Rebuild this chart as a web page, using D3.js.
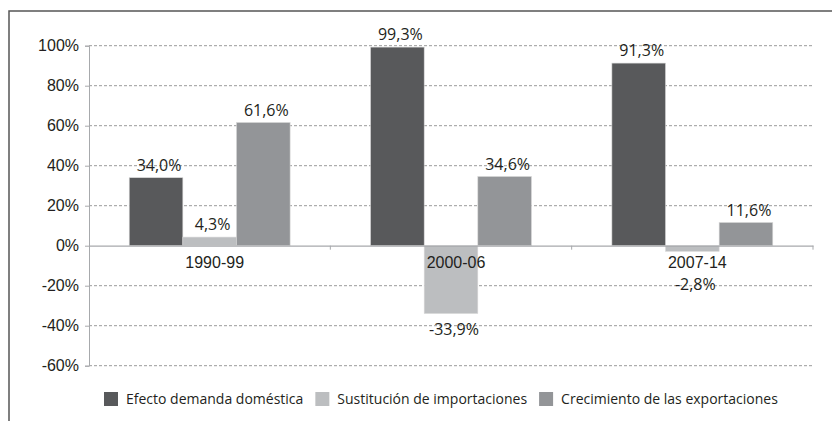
<!DOCTYPE html>
<html>
<head>
<meta charset="utf-8">
<script src="https://cdn.jsdelivr.net/npm/d3@7"></script>
<style>
  body { margin: 0; background: #fff; }
  svg { display: block; font-family: "Open Sans", sans-serif; }
</style>
</head>
<body>
<svg id="chart" width="832" height="421"></svg>
<script>
// data
const periods = ["1990-99", "2000-06", "2007-14"]
const seriesNames = ["Efecto demanda doméstica", "Sustitución de importaciones", "Crecimiento de las exportaciones"]
const demanda = [34.0, 99.3, 91.3]
const sustitucion = [4.3, -33.9, -2.8]
const exportaciones = [61.6, 34.6, 11.6]
const yTicks = [-60, -40, -20, 0, 20, 40, 60, 80, 100]

const colors = ["#58595b", "#bcbec0", "#939598"]
const allSeries = [demanda, sustitucion, exportaciones]

const width = 832, height = 421
const margin = {left: 89, right: 19, top: 45.7, bottom: 55.3}

const svg = d3.select("#chart")
const fmt = v => d3.format(".1f")(v).replace(".", ",").replace("−", "-") + "%"

// frame (cropped box)
svg.append("path")
    .attr("d", `M9,${height} L9,11 L${width},11`)
    .attr("fill", "none")
    .attr("stroke", "#555")
    .attr("stroke-width", 1.5)

const x = d3.scaleBand()
    .domain(periods)
    .range([margin.left, width - margin.right])
    .paddingInner(0)
    .paddingOuter(0)

const x1 = d3.scaleBand()
    .domain(d3.range(3))
    .range([0, x.bandwidth()])
    .paddingOuter(0.75)
    .paddingInner(0)

const y = d3.scaleLinear()
    .domain([-60, 100])
    .range([height - margin.bottom, margin.top])

// gridlines
svg.append("g")
  .selectAll("line")
  .data(yTicks.filter(d => d !== 0))
  .join("line")
    .attr("x1", margin.left)
    .attr("x2", width - margin.right)
    .attr("y1", d => y(d))
    .attr("y2", d => y(d))
    .attr("stroke", "#9a9a9a")
    .attr("stroke-width", 1)
    .attr("stroke-dasharray", "3,2")

// y axis
const yAxis = svg.append("g")
    .attr("transform", `translate(${margin.left},0)`)
    .call(d3.axisLeft(y).tickValues(yTicks).tickFormat(d => d + "%").tickSize(4).tickPadding(6))
yAxis.select(".domain").attr("stroke", "#a7a9ac")
yAxis.selectAll(".tick line").attr("stroke", "#a7a9ac")
yAxis.selectAll("text").attr("font-size", 16).attr("fill", "#231f20")

// bars
const groups = svg.append("g")
  .selectAll("g")
  .data(periods)
  .join("g")
    .attr("transform", d => `translate(${x(d)},0)`)

groups.selectAll("rect")
  .data((p, i) => allSeries.map((s, k) => ({k, v: s[i]})))
  .join("rect")
    .attr("x", d => x1(d.k))
    .attr("width", x1.bandwidth())
    .attr("y", d => y(Math.max(0, d.v)))
    .attr("height", d => Math.abs(y(d.v) - y(0)))
    .attr("fill", d => colors[d.k])
    .attr("stroke", "#d8d8d8")
    .attr("stroke-width", 0.6)

// x axis (zero line)
const xAxis = svg.append("g")
    .attr("transform", `translate(0,${y(0)})`)
    .call(d3.axisBottom(x).tickSize(0).tickPadding(11))
xAxis.select(".domain").attr("stroke", "#a7a9ac").attr("stroke-width", 1.2)
xAxis.selectAll("text").attr("font-size", 16).attr("fill", "#231f20").attr("dx", 5)
svg.append("g")
  .selectAll("line")
  .data([x.range()[0] + x.step(), x.range()[0] + 2 * x.step(), x.range()[1]])
  .join("line")
    .attr("x1", d => d).attr("x2", d => d)
    .attr("y1", y(0)).attr("y2", y(0) + 4)
    .attr("stroke", "#a7a9ac")

// value labels
groups.selectAll("text.val")
  .data((p, i) => allSeries.map((s, k) => ({k, v: s[i]})))
  .join("text")
    .attr("class", "val")
    .attr("x", d => x1(d.k) + x1.bandwidth() / 2 + 3)
    .attr("y", d => d.v >= 0 ? y(d.v) - 7 : Math.max(y(d.v), y(0) + 23) + 21.5)
    .attr("text-anchor", "middle")
    .attr("font-size", 16)
    .attr("fill", "#231f20")
    .text(d => fmt(d.v))

// legend
const legend = svg.append("g").attr("transform", "translate(104,399)")
let lx = 0
seriesNames.forEach((name, k) => {
  const item = legend.append("g").attr("transform", `translate(${lx},0)`)
  item.append("rect")
      .attr("x", 0).attr("y", -7)
      .attr("width", 14).attr("height", 14)
      .attr("fill", colors[k])
  const t = item.append("text")
      .attr("x", 22).attr("y", 5)
      .attr("font-size", 14)
      .attr("fill", "#231f20")
      .text(name)
  lx += 22 + t.node().getComputedTextLength() + 12
})
</script>
</body>
</html>
